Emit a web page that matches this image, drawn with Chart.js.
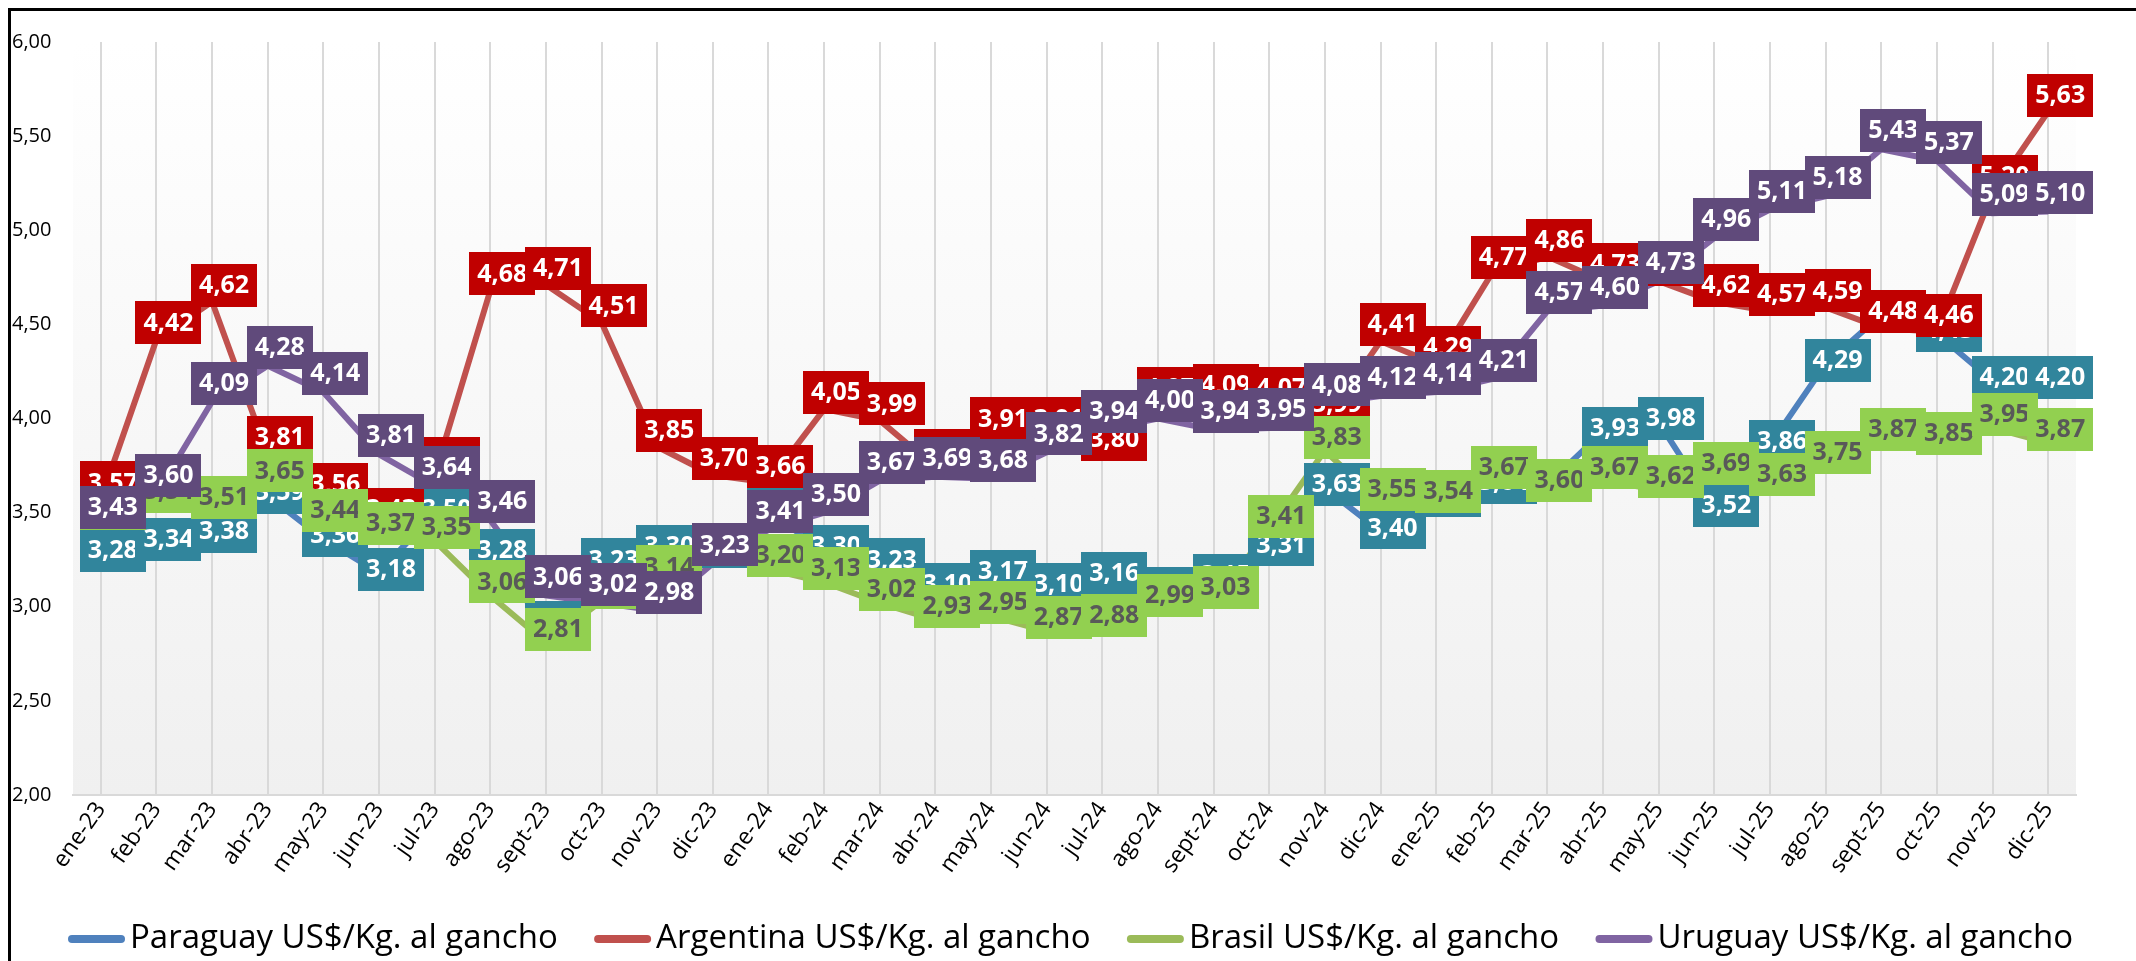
<!DOCTYPE html>
<html>
<head>
<meta charset="utf-8">
<script src="https://cdn.jsdelivr.net/npm/chart.js@4.4.1/dist/chart.umd.min.js"></script>
<style>
  html, body { margin: 0; padding: 0; background: #fff; }
  #wrap { width: 2136px; height: 961px; }
</style>
</head>
<body>
<div id="wrap"><canvas id="chart" width="2136" height="961"></canvas></div>
<script>
const months = [
  "ene-23", "feb-23", "mar-23", "abr-23", "may-23", "jun-23", "jul-23", "ago-23", "sept-23", "oct-23", "nov-23", "dic-23",
  "ene-24", "feb-24", "mar-24", "abr-24", "may-24", "jun-24", "jul-24", "ago-24", "sept-24", "oct-24", "nov-24", "dic-24",
  "ene-25", "feb-25", "mar-25", "abr-25", "may-25", "jun-25", "jul-25", "ago-25", "sept-25", "oct-25", "nov-25", "dic-25"
];

const paraguay = [3.28, 3.34, 3.38, 3.59, 3.36, 3.18, 3.50, 3.28, 2.90, 3.23, 3.30, 3.30,
                  3.50, 3.30, 3.23, 3.10, 3.17, 3.10, 3.16, 3.08, 3.15, 3.31, 3.63, 3.40,
                  3.57, 3.64, 3.65, 3.93, 3.98, 3.52, 3.86, 4.29, 4.55, 4.45, 4.20, 4.20];
const argentina = [3.57, 4.42, 4.62, 3.81, 3.56, 3.43, 3.70, 4.68, 4.71, 4.51, 3.85, 3.70,
                   3.66, 4.05, 3.99, 3.74, 3.91, 3.91, 3.80, 4.07, 4.09, 4.07, 3.99, 4.41,
                   4.29, 4.77, 4.86, 4.73, 4.73, 4.62, 4.57, 4.59, 4.48, 4.46, 5.20, 5.63];
const brasil = [3.45, 3.54, 3.51, 3.65, 3.44, 3.37, 3.35, 3.06, 2.81, 3.03, 3.14, 3.26,
                3.20, 3.13, 3.02, 2.93, 2.95, 2.87, 2.88, 2.99, 3.03, 3.41, 3.83, 3.55,
                3.54, 3.67, 3.60, 3.67, 3.62, 3.69, 3.63, 3.75, 3.87, 3.85, 3.95, 3.87];
const uruguay = [3.43, 3.60, 4.09, 4.28, 4.14, 3.81, 3.64, 3.46, 3.06, 3.02, 2.98, 3.23,
                 3.41, 3.50, 3.67, 3.69, 3.68, 3.82, 3.94, 4.00, 3.94, 3.95, 4.08, 4.12,
                 4.14, 4.21, 4.57, 4.60, 4.73, 4.96, 5.11, 5.18, 5.43, 5.37, 5.09, 5.10];

const seriesNames = [
  "Paraguay US$/Kg. al gancho",
  "Argentina US$/Kg. al gancho",
  "Brasil US$/Kg. al gancho",
  "Uruguay US$/Kg. al gancho"
];

const fmt = (v) => v.toFixed(2).replace(".", ",");

// white page, black frame and gradient plot background
const backdrop = {
  id: "backdrop",
  beforeDraw(chart) {
    const { ctx, chartArea: a } = chart;
    ctx.save();
    ctx.fillStyle = "#fff";
    ctx.fillRect(0, 0, chart.width, chart.height);
    const g = ctx.createLinearGradient(0, a.top, 0, a.bottom);
    g.addColorStop(0, "#ffffff");
    g.addColorStop(1, "#f0f0f0");
    ctx.fillStyle = g;
    ctx.fillRect(a.left, a.top, a.right - a.left, a.bottom - a.top);
    ctx.strokeStyle = "#000";
    ctx.lineWidth = 3;
    ctx.beginPath();
    ctx.moveTo(9.5, chart.height);
    ctx.lineTo(9.5, 9.5);
    ctx.lineTo(chart.width, 9.5);
    ctx.stroke();
    ctx.restore();
  }
};

// boxed value labels, drawn series by series like the spreadsheet does
const boxLabels = {
  id: "boxLabels",
  afterDatasetsDraw(chart) {
    const ctx = chart.ctx;
    ctx.save();
    ctx.font = 'bold 25px "Open Sans"';
    ctx.textAlign = "center";
    ctx.textBaseline = "middle";
    chart.data.datasets.forEach((ds, i) => {
      const meta = chart.getDatasetMeta(i);
      meta.data.forEach((pt, j) => {
        const x = pt.x + 12;
        const y = pt.y + ds.labelDy;
        ctx.fillStyle = ds.labelBg;
        ctx.fillRect(Math.round(x - 33), Math.round(y - 21), 66, 43);
        ctx.fillStyle = ds.labelColor;
        ctx.fillText(fmt(ds.data[j]), x, y + 1);
      });
    });
    ctx.restore();
  }
};

// legend along the bottom, spread across the plot width
const bottomLegend = {
  id: "bottomLegend",
  afterDraw(chart) {
    const ctx = chart.ctx;
    const dss = chart.data.datasets;
    ctx.save();
    ctx.font = '33px "Open Sans"';
    ctx.textBaseline = "middle";
    const sw = 57, gapTxt = 5;
    const widths = dss.map((d) => sw + gapTxt + ctx.measureText(d.label).width);
    const x0 = 68, x1 = 2073, y = 939;
    const gap = (x1 - x0 - widths.reduce((s, w) => s + w, 0)) / (dss.length - 1);
    let x = x0;
    dss.forEach((d, i) => {
      ctx.strokeStyle = d.borderColor;
      ctx.lineWidth = 8;
      ctx.lineCap = "round";
      ctx.beginPath();
      ctx.moveTo(x + 4, y);
      ctx.lineTo(x + sw - 4, y);
      ctx.stroke();
      ctx.fillStyle = "#000";
      ctx.fillText(d.label, x + sw + gapTxt, y);
      x += widths[i] + gap;
    });
    ctx.restore();
  }
};

const mk = (label, data, color, bg, txt, dy, order) => ({
  label, data,
  borderColor: color,
  backgroundColor: color,
  borderWidth: 6,
  pointRadius: 0,
  tension: 0,
  labelBg: bg,
  labelColor: txt,
  labelDy: dy,
  order
});

new Chart(document.getElementById("chart"), {
  type: "line",
  data: {
    labels: months,
    datasets: [
      mk(seriesNames[0], paraguay, "#4F81BD", "#31859C", "#ffffff", -4, 4),
      mk(seriesNames[1], argentina, "#C0504D", "#C00000", "#ffffff", -17, 3),
      mk(seriesNames[2], brasil, "#9BBB59", "#92D050", "#595959", -14, 2),
      mk(seriesNames[3], uruguay, "#8064A2", "#604A7B", "#ffffff", -19, 1)
    ]
  },
  options: {
    responsive: false,
    animation: false,
    devicePixelRatio: 1,
    layout: { padding: { left: 12, right: 60, top: 42, bottom: 56 } },
    scales: {
      x: {
        offset: true,
        grid: { offset: false, color: "#d9d9d9", lineWidth: 2, drawTicks: false },
        border: { color: "#d9d9d9", width: 2 },
        ticks: {
          color: "#000",
          font: { family: "Open Sans", size: 23 },
          minRotation: 55,
          maxRotation: 55,
          padding: 2,
          autoSkip: false
        },
        afterFit: (s) => { s.height = 110; }
      },
      y: {
        min: 2,
        max: 6,
        grid: { display: false },
        border: { display: false },
        ticks: {
          stepSize: 0.5,
          color: "#000",
          font: { family: "Open Sans", size: 20 },
          crossAlign: "far",
          callback: (v) => fmt(v)
        },
        afterFit: (s) => { s.width = 61; }
      }
    },
    plugins: {
      legend: { display: false },
      tooltip: { enabled: false }
    }
  },
  plugins: [backdrop, boxLabels, bottomLegend]
});
</script>
</body>
</html>
